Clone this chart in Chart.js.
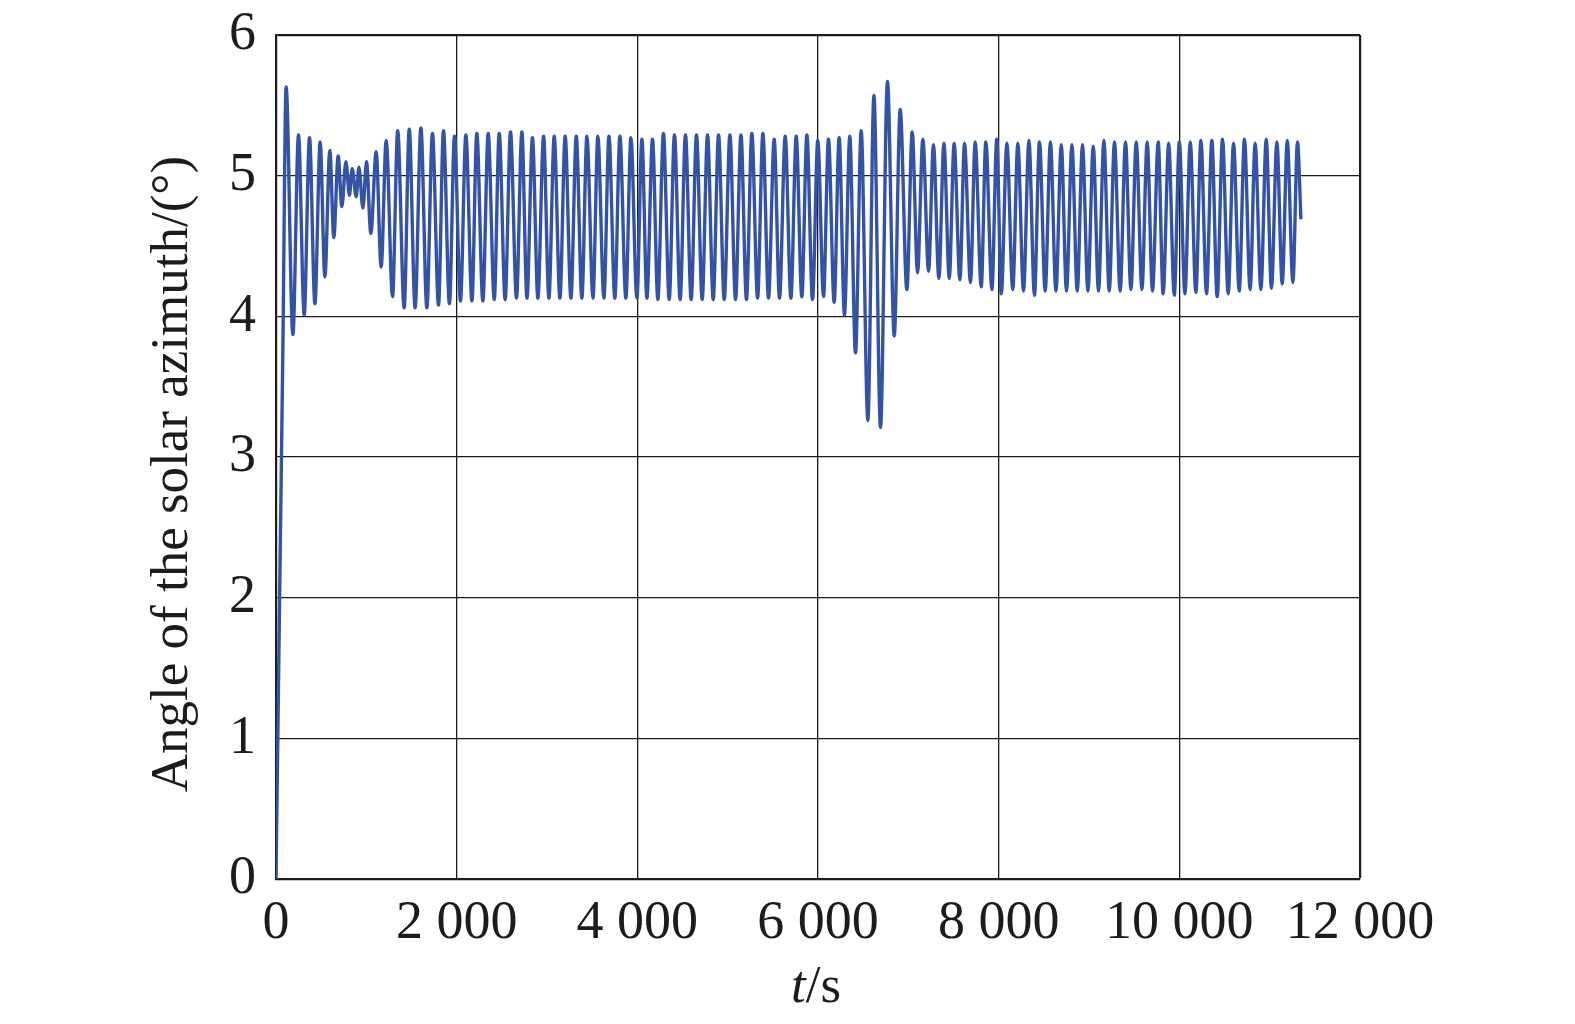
<!DOCTYPE html>
<html>
<head>
<meta charset="utf-8">
<title>Angle of the solar azimuth</title>
<script src="https://cdn.jsdelivr.net/npm/chart.js@4.4.1/dist/chart.umd.min.js"></script>
<style>
  html, body { margin: 0; padding: 0; background: #fff; }
  #wrap { width: 1575px; height: 1024px; }
</style>
</head>
<body>
<div id="wrap"><canvas id="azimuthChart" width="1575" height="1024"></canvas></div>
<script>
// extremes (peaks / troughs), time in s, angle in deg
// start-up ramp
const rampT = [0, 40, 76, 112];
const rampA = [0, 2.0, 3.76, 5.63];

// settling, with the beat around 800 s
const settleT = [187, 249, 312, 371, 431, 489, 541, 596, 640, 688,
                 729, 774, 813, 843, 888, 918, 962, 1002, 1050, 1109,
                 1164, 1220, 1290];
const settleA = [3.87, 5.29, 4.01, 5.27, 4.09, 5.24, 4.28, 5.18, 4.56, 5.14,
                 4.78, 5.10, 4.86, 5.05, 4.85, 5.06, 4.77, 5.10, 4.59, 5.17,
                 4.35, 5.25, 4.14];

// steady oscillation
const steadyT = [1347, 1419, 1475, 1540, 1604, 1670, 1732, 1799, 1854, 1920,
                 1976, 2042, 2102, 2169, 2223, 2290, 2349, 2416, 2471, 2537,
                 2596, 2662, 2722, 2778, 2839, 2899, 2962, 3021, 3080, 3143,
                 3201, 3265, 3324, 3386, 3442, 3509, 3563, 3630, 3686, 3751,
                 3807, 3873, 3929, 3995, 4051, 4106, 4168, 4227, 4289, 4353,
                 4411, 4474, 4533, 4596, 4655, 4718, 4777, 4840, 4899, 4962,
                 5025, 5087, 5147, 5208, 5268, 5331, 5390, 5452, 5515, 5574,
                 5637, 5700, 5759, 5821, 5877, 5939, 5998, 6061, 6116, 6179,
                 6234];
const steadyA = [5.32, 4.06, 5.33, 4.06, 5.34, 4.06, 5.30, 4.08, 5.32, 4.09,
                 5.28, 4.11, 5.29, 4.11, 5.30, 4.11, 5.30, 4.12, 5.30, 4.12,
                 5.31, 4.13, 5.31, 4.13, 5.27, 4.13, 5.28, 4.13, 5.28, 4.13,
                 5.28, 4.13, 5.28, 4.13, 5.28, 4.13, 5.28, 4.13, 5.28, 4.13,
                 5.28, 4.13, 5.27, 4.13, 5.26, 4.13, 5.26, 4.12, 5.30, 4.12,
                 5.29, 4.12, 5.29, 4.12, 5.29, 4.12, 5.29, 4.12, 5.29, 4.12,
                 5.29, 4.12, 5.29, 4.12, 5.30, 4.13, 5.30, 4.13, 5.26, 4.13,
                 5.28, 4.13, 5.28, 4.14, 5.29, 4.12, 5.25, 4.14, 5.26, 4.10,
                 5.27];

// disturbance around 6 600 s
const gustT = [6293, 6352, 6415, 6478, 6552, 6619, 6692, 6769, 6844, 6910, 6984];
const gustA = [4.01, 5.28, 3.74, 5.32, 3.26, 5.57, 3.21, 5.67, 3.86, 5.47, 4.19];

// recovery and tail
const tailT = [7043, 7102, 7161, 7224, 7278, 7338, 7394, 7453, 7507, 7571,
               7622, 7688, 7740, 7807, 7858, 7925, 7979, 8029, 8091, 8156,
               8212, 8275, 8335, 8396, 8452, 8515, 8573, 8634, 8693, 8751,
               8811, 8870, 8928, 8988, 9047, 9105, 9165, 9224, 9282, 9345,
               9404, 9464, 9523, 9586, 9644, 9703, 9766, 9821, 9882, 9944,
               10000, 10062, 10121, 10183, 10239, 10301, 10360, 10419, 10478, 10541,
               10600, 10663, 10721, 10784, 10839, 10903, 10962, 11020, 11080, 11139,
               11195, 11257, 11308, 11346];
const tailA = [5.31, 4.31, 5.26, 4.32, 5.22, 4.27, 5.23, 4.27, 5.23, 4.26,
               5.23, 4.24, 5.24, 4.21, 5.24, 4.19, 5.26, 4.16, 5.23, 4.19,
               5.23, 4.18, 5.25, 4.15, 5.24, 4.18, 5.24, 4.18, 5.22, 4.18,
               5.22, 4.18, 5.22, 4.18, 5.21, 4.18, 5.25, 4.18, 5.24, 4.18,
               5.24, 4.19, 5.24, 4.19, 5.24, 4.18, 5.24, 4.16, 5.23, 4.15,
               5.24, 4.16, 5.24, 4.17, 5.25, 4.16, 5.25, 4.14, 5.26, 4.16,
               5.23, 4.18, 5.26, 4.19, 5.23, 4.19, 5.26, 4.20, 5.24, 4.23,
               5.25, 4.24, 5.24, 4.69];

const xTicks = [0, 2000, 4000, 6000, 8000, 10000, 12000];
const yTicks = [0, 1, 2, 3, 4, 5, 6];
const yTitle = 'Angle of the solar azimuth/(°)';
const xTitleVar = 't';
const xTitleUnit = '/s';

const timeS = [].concat(rampT, settleT, steadyT, gustT, tailT);
const angleDeg = [].concat(rampA, settleA, steadyA, gustA, tailA);
const points = timeS.map((t, i) => ({ x: t, y: angleDeg[i] }));

const FONT = "'Liberation Serif', 'Times New Roman', serif";
const INK = '#1c1c1c';

function fmtThousands(v) {
  if (v < 1000) return String(v);
  return Math.floor(v / 1000) + ' ' + String(v % 1000).padStart(3, '0');
}

// axis titles drawn by hand so the "t" can be italic
const titlesPlugin = {
  id: 'axisTitles',
  afterDraw(chart) {
    const ctx = chart.ctx;
    ctx.save();
    ctx.fillStyle = INK;
    ctx.font = '53px ' + FONT;
    ctx.textAlign = 'center';
    ctx.textBaseline = 'alphabetic';
    ctx.translate(187, 474);
    ctx.rotate(-Math.PI / 2);
    ctx.fillText(yTitle, 0, 0);
    ctx.restore();

    ctx.save();
    ctx.fillStyle = INK;
    ctx.textBaseline = 'alphabetic';
    ctx.textAlign = 'left';
    ctx.font = 'italic 53px ' + FONT;
    const w1 = ctx.measureText(xTitleVar).width;
    ctx.font = '53px ' + FONT;
    const w2 = ctx.measureText(xTitleUnit).width;
    let x0 = 816 - (w1 + w2) / 2;
    ctx.font = 'italic 53px ' + FONT;
    ctx.fillText(xTitleVar, x0, 1002);
    ctx.font = '53px ' + FONT;
    ctx.fillText(xTitleUnit, x0 + w1, 1002);
    ctx.restore();
  }
};

const ctx = document.getElementById('azimuthChart').getContext('2d');

new Chart(ctx, {
  type: 'line',
  data: {
    datasets: [{
      label: yTitle,
      data: points,
      borderColor: '#3453a5',
      borderWidth: 3.4,
      pointRadius: 0,
      fill: false,
      cubicInterpolationMode: 'monotone'
    }]
  },
  options: {
    responsive: false,
    animation: false,
    layout: {
      padding: { left: 0, right: 215, top: 35, bottom: 0 }
    },
    scales: {
      x: {
        type: 'linear',
        min: 0,
        max: 12000,
        afterBuildTicks: scale => { scale.ticks = xTicks.map(v => ({ value: v })); },
        afterFit: scale => { scale.height = 145; },
        ticks: {
          color: INK,
          font: { family: FONT, size: 54 },
          padding: 12,
          maxRotation: 0,
          autoSkip: false,
          callback: v => fmtThousands(v)
        },
        grid: {
          color: INK,
          lineWidth: c => (c.tick && c.tick.value === 12000 ? 2.2 : 1.3),
          drawTicks: false
        },
        border: { color: INK, width: 2.2 }
      },
      y: {
        min: 0,
        max: 6,
        afterBuildTicks: scale => { scale.ticks = yTicks.map(v => ({ value: v })); },
        afterFit: scale => { scale.width = 276; },
        ticks: {
          color: INK,
          font: { family: FONT, size: 54, lineHeight: 0.4 },
          padding: 20
        },
        grid: {
          color: INK,
          lineWidth: c => (c.tick && c.tick.value === 6 ? 2.2 : 1.3),
          drawTicks: false
        },
        border: { color: INK, width: 2.2 }
      }
    },
    plugins: {
      legend: { display: false },
      tooltip: { enabled: false }
    }
  },
  plugins: [titlesPlugin]
});
</script>
</body>
</html>
